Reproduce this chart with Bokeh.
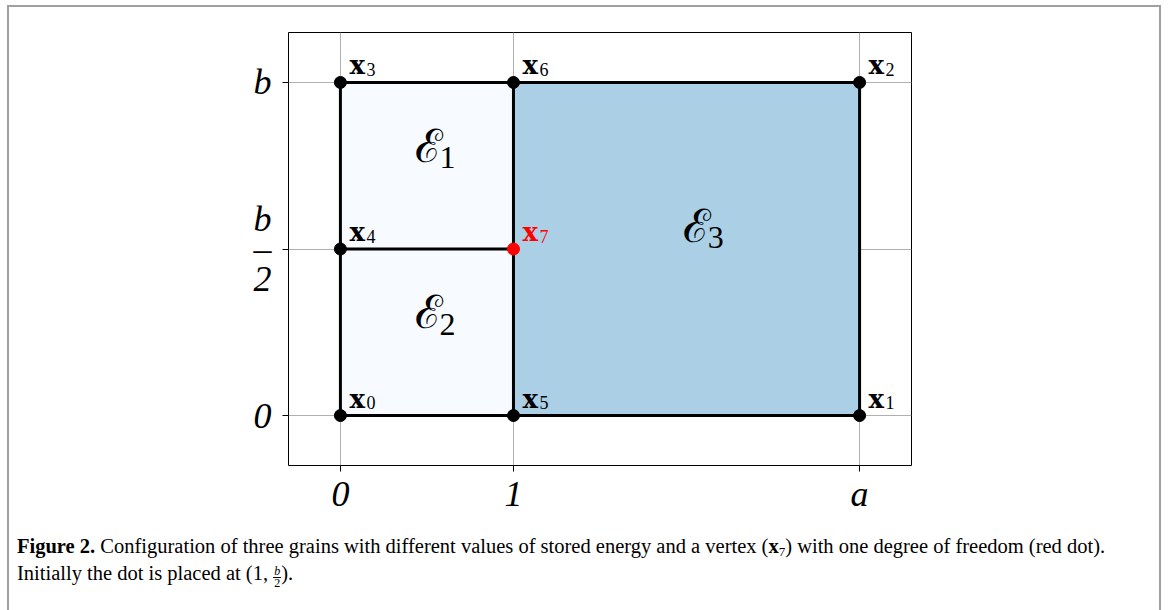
from bokeh.plotting import figure
from bokeh.models import ColumnDataSource, FixedTicker, Div, Range1d
from bokeh.layouts import column
from bokeh.core.properties import value
from bokeh.embed import file_html
from bokeh.resources import INLINE

# Domain size: width a, height b
A = 3.0
B = 2.0

# Vertices x0..x7
vertex_names = ["0", "1", "2", "3", "4", "5", "6", "7"]
vertex_x = [0.0, A, A, 0.0, 0.0, 1.0, 1.0, 1.0]
vertex_y = [0.0, 0.0, B, B, B / 2, 0.0, B, B / 2]
vertex_colors = ["black"] * 7 + ["red"]

# Grains as vertex index loops, with their stored-energy shading
grain_vertices = [[3, 4, 7, 6], [4, 0, 5, 7], [5, 1, 2, 6]]
grain_fills = ["#f7fbff", "#f7fbff", "#abd0e6"]
grain_names = ["1", "2", "3"]
grain_label_x = [0.55, 0.55, 2.1]
grain_label_y = [1.5, 0.5, 1.02]

# Grain boundaries
edges = [(0, 5), (5, 1), (1, 2), (2, 6), (6, 3), (3, 4), (4, 0), (4, 7), (5, 7), (7, 6)]

# Ticks and their labels
x_ticks = [0.0, 1.0, A]
x_tick_labels = ["0", "1", "a"]
y_ticks = [0.0, B / 2, B]
y_tick_labels = ["0", "b\n\u2013\n2", "b"]

X_MIN, X_MAX = -0.3, A + 0.3
Y_MIN, Y_MAX = -0.3, B + 0.3

SERIF = "Liberation Serif"

p = figure(width=1170, height=530,
           x_range=Range1d(X_MIN, X_MAX), y_range=Range1d(Y_MIN, Y_MAX),
           output_backend="svg", toolbar_location=None,
           min_border_left=288, min_border_right=259,
           min_border_top=32, min_border_bottom=65)
p.background_fill_color = "white"
p.border_fill_color = "white"
p.outline_line_color = "black"
p.outline_line_width = 1

for ax, ticks, labels in ((p.xaxis, x_ticks, x_tick_labels), (p.yaxis, y_ticks, y_tick_labels)):
    ax.ticker = FixedTicker(ticks=ticks)
    ax.major_label_overrides = dict(zip(ticks, labels))
    ax.axis_line_color = None
    ax.minor_tick_line_color = None
    ax.major_tick_in = 0
    ax.major_tick_out = 6
    ax.major_tick_line_color = "black"
    ax.major_label_text_font = SERIF
    ax.major_label_text_font_style = "italic"
    ax.major_label_text_font_size = "36px"
    ax.major_label_text_color = "black"
    ax.major_label_text_line_height = 0.76

p.xaxis.major_label_standoff = 2
p.yaxis.major_label_standoff = 11

p.xgrid.ticker = FixedTicker(ticks=x_ticks)
p.ygrid.ticker = FixedTicker(ticks=y_ticks)
for g in (p.xgrid, p.ygrid):
    g.grid_line_color = "#b0b0b0"
    g.grid_line_width = 1

# Grains
grain_src = ColumnDataSource(dict(
    xs=[[vertex_x[i] for i in g] for g in grain_vertices],
    ys=[[vertex_y[i] for i in g] for g in grain_vertices],
    fill=grain_fills,
))
p.patches("xs", "ys", source=grain_src, fill_color="fill", line_color=None)

edge_src = ColumnDataSource(dict(
    xs=[[vertex_x[i], vertex_x[j]] for i, j in edges],
    ys=[[vertex_y[i], vertex_y[j]] for i, j in edges],
))
p.multi_line("xs", "ys", source=edge_src, line_color="black", line_width=3)

vtx_src = ColumnDataSource(dict(x=vertex_x, y=vertex_y, name=vertex_names,
                                bold=["x"] * len(vertex_x), color=vertex_colors))
p.scatter("x", "y", source=vtx_src, size=12, color="color")

# Vertex labels: bold x with a subscript index
p.text("x", "y", text="bold", source=vtx_src, text_color="color",
       text_font=value("DejaVu Serif"), text_font_style="bold", text_font_size="26px",
       text_align="left", text_baseline="alphabetic", x_offset=9, y_offset=-17)
p.text("x", "y", text="name", source=vtx_src, text_color="color",
       text_font=value(SERIF), text_font_size="18px",
       text_align="left", text_baseline="alphabetic", x_offset=26, y_offset=-13)

# Grain energy labels
lab_src = ColumnDataSource(dict(x=grain_label_x, y=grain_label_y, name=grain_names,
                                cal=["\u2130"] * len(grain_names)))
p.text("x", "y", text="cal", source=lab_src, text_color="black",
       text_font=value("DejaVu Serif"), text_font_size="46px",
       text_align="right", text_baseline="alphabetic", x_offset=7, y_offset=-20)
p.text("x", "y", text="name", source=lab_src, text_color="black",
       text_font=value(SERIF), text_font_size="32px",
       text_align="left", text_baseline="alphabetic", x_offset=4, y_offset=-8)

caption_html = (
    '<div style="position:relative;width:1170px;height:80px;margin:0;padding:0;">'
    '<div style="position:absolute;left:7px;top:-525px;width:1154px;height:605px;'
    'border-top:2px solid #a0a0a0;border-left:2px solid #a0a0a0;'
    'border-right:2px solid #a0a0a0;pointer-events:none;"></div>'
    '<div style="position:absolute;left:17px;top:4px;font-family:\'Liberation Serif\';'
    'font-size:20.5px;line-height:25px;color:#000;white-space:nowrap;">'
    '<b>Figure 2.</b> Configuration of three grains with different values of stored energy '
    'and a vertex (<b>x</b><span style="font-size:13px;position:relative;top:3px;">7</span>) '
    'with one degree of freedom (red dot).<br>'
    'Initially the dot is placed at (1, '
    '<span style="display:inline-block;vertical-align:-7px;text-align:center;'
    'font-size:12px;line-height:11px;"><i>b</i><br>'
    '<span style="display:inline-block;border-top:1px solid #000;padding:0 1px;">2</span></span>).'
    '</div></div>'
)
caption = Div(text=caption_html, width=1170, height=80, margin=0)

layout = column(p, caption, spacing=0, margin=0)
open("out.html", "w").write(file_html(layout, INLINE))
